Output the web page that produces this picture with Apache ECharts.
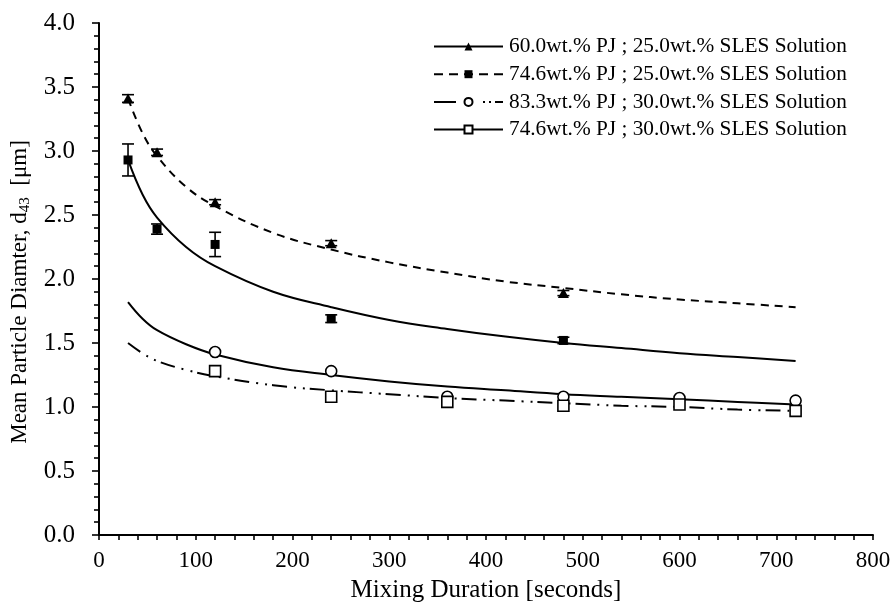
<!DOCTYPE html>
<html>
<head>
<meta charset="utf-8">
<script src="https://cdn.jsdelivr.net/npm/echarts@6/dist/echarts.min.js"></script>
<style>
  html, body { margin: 0; padding: 0; background: #fff; }
  #chart { width: 896px; height: 608px; }
</style>
</head>
<body>
<div id="chart"></div>
<script>
// Series labels
const nameA = '60.0wt.% PJ ; 25.0wt.% SLES Solution';
const nameB = '74.6wt.% PJ ; 25.0wt.% SLES Solution';
const nameC = '83.3wt.% PJ ; 30.0wt.% SLES Solution';
const nameD = '74.6wt.% PJ ; 30.0wt.% SLES Solution';

// Measured d43 [μm] against mixing duration [s]
const durationsShort = [30, 60, 120, 240, 480];
const d43A = [3.41, 2.99, 2.60, 2.28, 1.89];
const errA = [0.03, 0.025, 0.02, 0.02, 0.02];
const d43B = [2.93, 2.39, 2.27, 1.69, 1.52];
const errB = [0.125, 0.04, 0.095, 0.03, 0.025];

const durationsLong = [120, 240, 360, 480, 600, 720];
const d43C = [1.43, 1.28, 1.08, 1.08, 1.07, 1.05];
const d43D = [1.28, 1.08, 1.04, 1.01, 1.02, 0.97];

// Trend curves through each data set
const trendDurations = [30, 45, 60, 90, 120, 180, 240, 300, 360, 420, 480, 540, 600, 660, 720];
const trendA = [3.41, 3.14, 2.96, 2.72, 2.57, 2.36, 2.23, 2.13, 2.05, 1.98, 1.93, 1.88, 1.84, 1.81, 1.78];
const trendB = [2.93, 2.66, 2.48, 2.25, 2.10, 1.90, 1.78, 1.68, 1.61, 1.55, 1.50, 1.46, 1.42, 1.39, 1.36];
const trendC = [1.82, 1.69, 1.60, 1.49, 1.41, 1.31, 1.25, 1.20, 1.16, 1.13, 1.10, 1.08, 1.06, 1.04, 1.02];
const trendD = [1.50, 1.42, 1.36, 1.29, 1.24, 1.17, 1.13, 1.10, 1.07, 1.05, 1.03, 1.01, 1.00, 0.98, 0.97];

// Axis ticks
const xTicks = { min: 0, max: 800, step: 100 };
const yTicks = { min: 0, max: 4, step: 0.5 };

const FONT = 'Liberation Serif';
const dashed = [8, 6];
const dashDotDot = [15, 7, 2, 7, 2, 5];

const pairs = (xs, ys) => xs.map((x, i) => [x, ys[i]]);

function errorBars(xs, ys, errs) {
  return {
    type: 'custom',
    silent: true,
    z: 2,
    data: xs.map((x, i) => [x, ys[i] - errs[i], ys[i] + errs[i]]),
    renderItem(params, api) {
      const x = api.value(0);
      const lo = api.coord([x, api.value(1)]);
      const hi = api.coord([x, api.value(2)]);
      const half = 6;
      const style = { stroke: '#000', lineWidth: 1.6, fill: null };
      return {
        type: 'group',
        children: [
          { type: 'line', shape: { x1: lo[0], y1: lo[1], x2: hi[0], y2: hi[1] }, style },
          { type: 'line', shape: { x1: lo[0] - half, y1: lo[1], x2: lo[0] + half, y2: lo[1] }, style },
          { type: 'line', shape: { x1: hi[0] - half, y1: hi[1], x2: hi[0] + half, y2: hi[1] }, style }
        ]
      };
    }
  };
}

function markers(name, xs, ys, symbol, size, filled) {
  return {
    name,
    type: 'line',
    data: pairs(xs, ys),
    symbol,
    symbolSize: size,
    showAllSymbol: true,
    z: 4,
    lineStyle: { opacity: 0, width: 0 },
    itemStyle: filled
      ? { color: '#000', borderColor: '#000', borderWidth: 0 }
      : { color: '#fff', borderColor: '#000', borderWidth: 1.6 },
    emphasis: { disabled: true }
  };
}

function trend(ys, type) {
  return {
    type: 'line',
    data: pairs(trendDurations, ys),
    smooth: 0.4,
    symbol: 'none',
    silent: true,
    z: 3,
    lineStyle: { color: '#000', width: 2, type }
  };
}

const legendLine = type => ({ color: '#000', width: 2, type, opacity: 1 });

const chart = echarts.init(document.getElementById('chart'), null, { renderer: 'canvas' });

chart.setOption({
  animation: false,
  backgroundColor: '#fff',
  textStyle: { fontFamily: FONT, color: '#000' },
  grid: { left: 99, right: 23, top: 23, bottom: 73, containLabel: false },
  legend: {
    orient: 'vertical',
    left: 433,
    top: 36,
    padding: 0,
    itemWidth: 69,
    itemHeight: 10,
    itemGap: 6.7,
    selectedMode: false,
    textStyle: { fontFamily: FONT, fontSize: 21.3, color: '#000', padding: [0, 0, 0, 1] },
    data: [
      { name: nameA, lineStyle: legendLine('solid') },
      { name: nameB, lineStyle: legendLine([9, 6]) },
      { name: nameC, lineStyle: legendLine([22, 27, 2, 4, 2, 4, 8]) },
      { name: nameD, lineStyle: legendLine('solid') }
    ]
  },
  xAxis: {
    type: 'value',
    min: xTicks.min,
    max: xTicks.max,
    interval: xTicks.step,
    name: 'Mixing Duration [seconds]',
    nameLocation: 'middle',
    nameGap: 43,
    nameTextStyle: { fontFamily: FONT, fontSize: 25, color: '#000' },
    axisLine: { show: true, lineStyle: { color: '#000', width: 2 } },
    axisTick: { show: true, inside: false, length: 5, lineStyle: { color: '#000', width: 1.6 } },
    minorTick: { show: true, splitNumber: 5, length: 5, lineStyle: { color: '#000', width: 1.6 } },
    axisLabel: { fontFamily: FONT, fontSize: 23, color: '#000', margin: 14 },
    splitLine: { show: false }
  },
  yAxis: {
    type: 'value',
    min: yTicks.min,
    max: yTicks.max,
    interval: yTicks.step,
    name: 'Mean Particle Diamter, d{sub|43}  [μm]',
    nameLocation: 'middle',
    nameGap: 66,
    nameTextStyle: {
      fontFamily: FONT, fontSize: 23, color: '#000',
      padding: [0, 26, 0, 0],
      rich: { sub: { fontFamily: FONT, fontSize: 15, color: '#000', padding: [10, 0, 0, 0] } }
    },
    axisLine: { show: true, lineStyle: { color: '#000', width: 2 } },
    axisTick: { show: true, inside: false, length: 7, lineStyle: { color: '#000', width: 1.6 } },
    minorTick: { show: true, splitNumber: 5, length: 5, lineStyle: { color: '#000', width: 1.6 } },
    axisLabel: {
      fontFamily: FONT, fontSize: 25, color: '#000', margin: 24,
      formatter: v => v.toFixed(1)
    },
    splitLine: { show: false }
  },
  series: [
    trend(trendA, dashed),
    trend(trendB, 'solid'),
    trend(trendC, 'solid'),
    trend(trendD, dashDotDot),
    errorBars(durationsShort, d43A, errA),
    errorBars(durationsShort, d43B, errB),
    markers(nameA, durationsShort, d43A, 'triangle', [11, 10], true),
    markers(nameB, durationsShort, d43B, 'rect', 9, true),
    markers(nameC, durationsLong, d43C, 'circle', 11, false),
    markers(nameD, durationsLong, d43D, 'rect', 11, false)
  ]
});
</script>
</body>
</html>
